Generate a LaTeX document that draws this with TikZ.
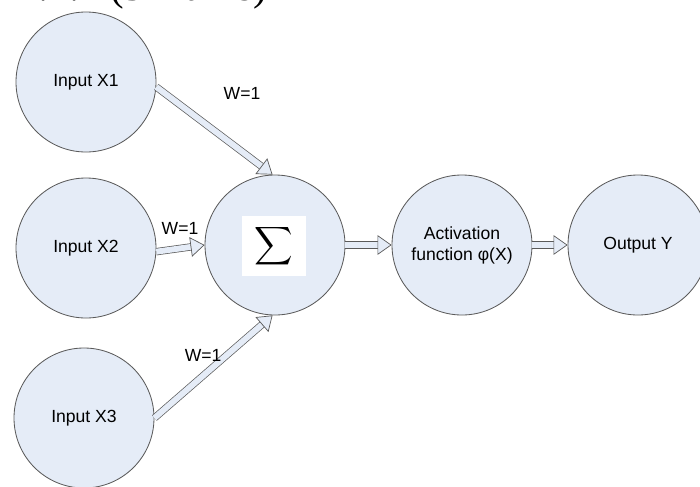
\documentclass[tikz,border=0pt]{standalone}
\usepackage{fontspec}
\setmainfont{Liberation Sans}
\newfontfamily\titlefont{Liberation Serif}
\usetikzlibrary{arrows.meta}
\definecolor{cellblue}{HTML}{E5ECF7}
\definecolor{linegray}{HTML}{5A5A5A}
\begin{document}
\begin{tikzpicture}[
	neuron/.style={circle, draw=linegray, line width=0.6pt, fill=cellblue, minimum size=3.5cm, inner sep=0pt, align=center, font=\fontsize{12.5}{15}\selectfont},
	flow/.style={draw=linegray, line width=0.5pt, double=cellblue, double distance=4.2pt, -{Triangle[length=10pt, width=14pt, fill=cellblue]}},
	weight/.style={font=\fontsize{12.5}{15}\selectfont}
	]
	\useasboundingbox (0,0) rectangle (17.5,-12.15);
	\node[anchor=base west, inner sep=0pt, font=\titlefont\fontsize{29}{34}\selectfont] (title) at (0.45,0.0) {2.2.4 (5 marks)};
	
	\node[neuron] (x1) at (2.15,-2.05) {Input X1};
	\node[neuron] (x2) at (2.15,-6.2) {Input X2};
	\node[neuron] (x3) at (2.1,-10.45) {Input X3};
	\node[neuron] (sum) at (6.875,-6.125) {};
	\node[fill=white, minimum width=1.58cm, minimum height=1.5cm, inner sep=0pt] (sigma) at (6.85,-6.15) {\scalebox{1.9}{$\displaystyle\sum$}};
	\node[neuron] (act) at (11.55,-6.125) {Activation\\function φ(X)};
	\node[neuron] (out) at (15.95,-6.125) {Output Y};
	
	\draw[flow] (x1.-4) -- (sum.92);
	\draw[flow] (x2.-3) -- (sum.west);
	\draw[flow] (x3.east) -- (sum.-92);
	\draw[flow] (sum.east) -- (act.west);
	\draw[flow] (act.east) -- (out.west);
	
	\node[weight] (w1) at (6.05,-2.33) {W=1};
	\node[weight] (w2) at (4.5,-5.7) {W=1};
	\node[weight] (w3) at (5.08,-8.88) {W=1};
\end{tikzpicture}
\end{document}
